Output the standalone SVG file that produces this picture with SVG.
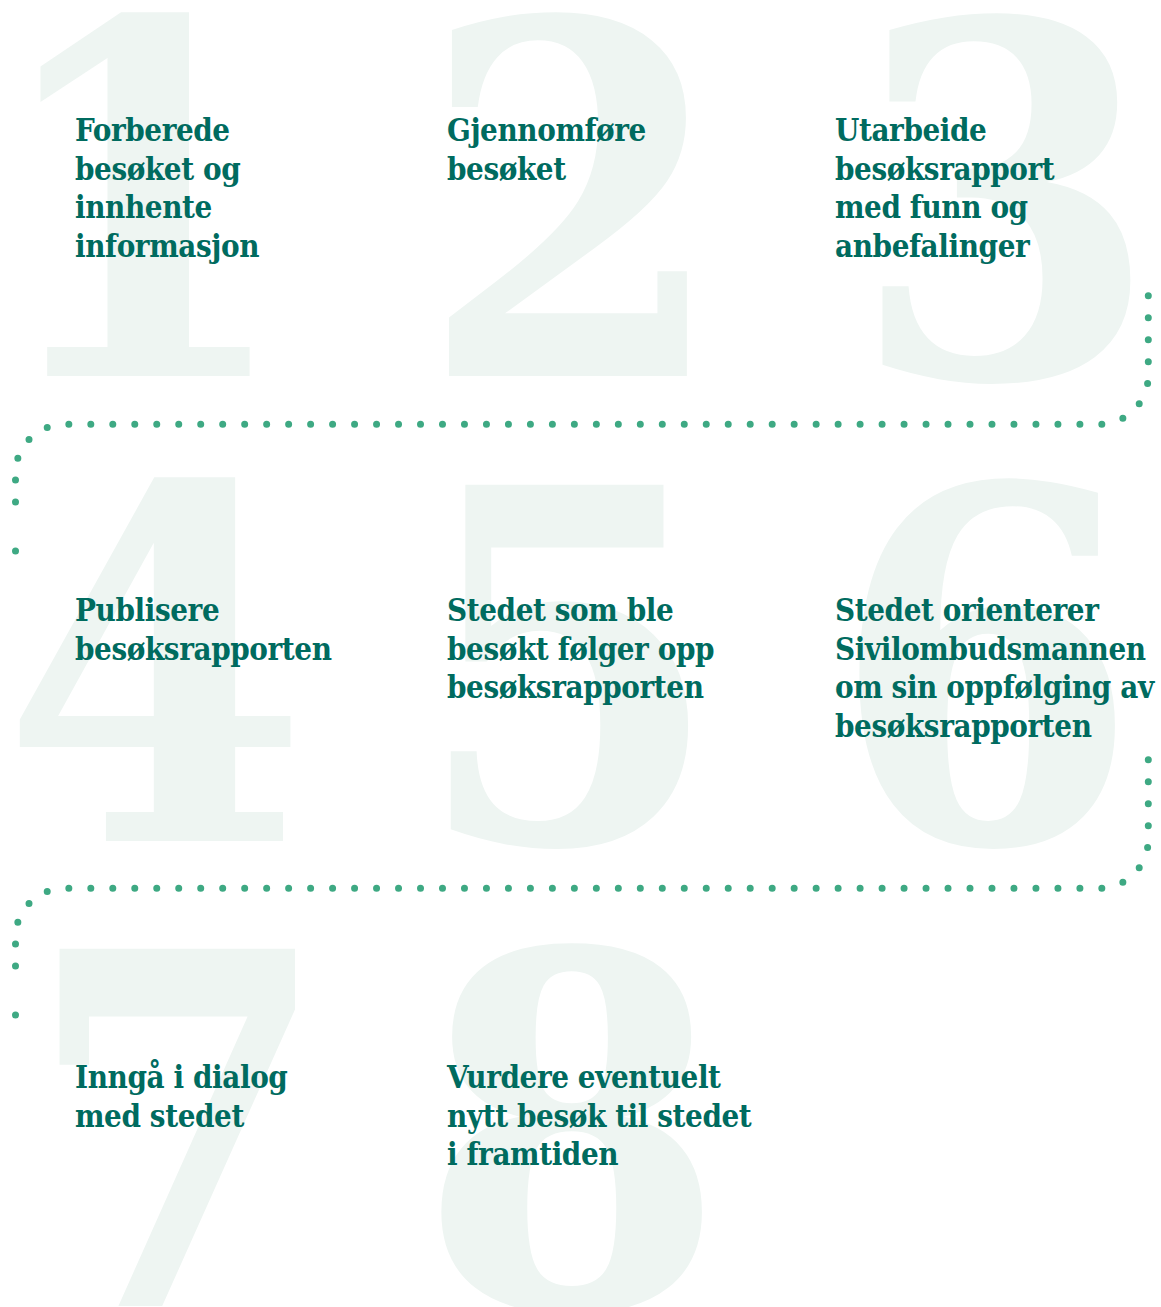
<svg xmlns="http://www.w3.org/2000/svg" width="1161" height="1307" viewBox="0 0 1161 1307">
<defs>
<style>
.num{font-family:"DejaVu Serif Condensed","DejaVu Serif",serif;font-weight:bold;font-size:490px;fill:#eef5f2;text-anchor:middle}
.lbl{font-family:"DejaVu Serif Condensed","DejaVu Serif",serif;font-weight:bold;font-size:31px;letter-spacing:-0.4px;fill:#006b5f}
.dots{fill:none;stroke:#3ea983;stroke-width:7;stroke-linecap:round;stroke-dasharray:0 1}
.dot{fill:#3ea983}
</style>
</defs>
<rect width="1161" height="1307" fill="#ffffff"/>
<g id="numbers">
<text class="num" x="140" y="376">1</text>
<text class="num" x="573" y="376">2</text>
<text class="num" x="1005" y="377">3</text>
<text class="num" x="155" y="841">4</text>
<text class="num" x="568" y="842">5</text>
<text class="num" x="985" y="842">6</text>
<text class="num" x="178" y="1306">7</text>
<text class="num" x="572" y="1307">8</text>
</g>
<g id="connectors">
<path class="dots" pathLength="60" d="M1148.3,295.7 V375.3 A49,49 0 0 1 1099.3,424.3 H64.5 A49,49 0 0 0 15.5,473.3 V524"/>
<circle class="dot" cx="15.5" cy="551" r="3.5"/>
<path class="dots" pathLength="60" d="M1148.3,759.7 V839.3 A49,49 0 0 1 1099.3,888.3 H64.5 A49,49 0 0 0 15.5,937.3 V988"/>
<circle class="dot" cx="15.5" cy="1015" r="3.5"/>
</g>
<g id="step1"><text class="lbl" x="75" y="141"><tspan x="75">Forberede</tspan><tspan x="75" dy="38.5">besøket og</tspan><tspan x="75" dy="38.5">innhente</tspan><tspan x="75" dy="38.5">informasjon</tspan></text></g>
<g id="step2"><text class="lbl" x="447" y="141"><tspan x="447">Gjennomføre</tspan><tspan x="447" dy="38.5">besøket</tspan></text></g>
<g id="step3"><text class="lbl" x="835" y="141"><tspan x="835">Utarbeide</tspan><tspan x="835" dy="38.5">besøksrapport</tspan><tspan x="835" dy="38.5">med funn og</tspan><tspan x="835" dy="38.5">anbefalinger</tspan></text></g>
<g id="step4"><text class="lbl" x="75" y="621"><tspan x="75">Publisere</tspan><tspan x="75" dy="38.5">besøksrapporten</tspan></text></g>
<g id="step5"><text class="lbl" x="447" y="621"><tspan x="447">Stedet som ble</tspan><tspan x="447" dy="38.5">besøkt følger opp</tspan><tspan x="447" dy="38.5">besøksrapporten</tspan></text></g>
<g id="step6"><text class="lbl" x="835" y="621"><tspan x="835">Stedet orienterer</tspan><tspan x="835" dy="38.5">Sivilombudsmannen</tspan><tspan x="835" dy="38.5">om sin oppfølging av</tspan><tspan x="835" dy="38.5">besøksrapporten</tspan></text></g>
<g id="step7"><text class="lbl" x="75" y="1088"><tspan x="75">Inngå i dialog</tspan><tspan x="75" dy="38.5">med stedet</tspan></text></g>
<g id="step8"><text class="lbl" x="447" y="1088"><tspan x="447">Vurdere eventuelt</tspan><tspan x="447" dy="38.5">nytt besøk til stedet</tspan><tspan x="447" dy="38.5">i framtiden</tspan></text></g>
</svg>
